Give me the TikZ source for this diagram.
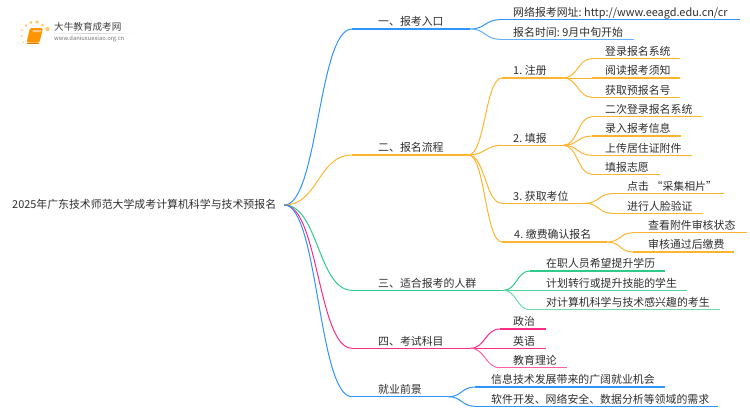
\documentclass[tikz,border=0pt]{standalone}
\usepackage{fontspec}
\setmainfont{Noto Sans CJK SC}
\usepackage{xcolor}
\usetikzlibrary{calc}

\definecolor{inkText}{HTML}{2E2E2E}
\definecolor{blueLine}{HTML}{2F95FB}
\definecolor{orangeLine}{HTML}{FDB52F}
\definecolor{greenLine}{HTML}{2FCB8B}
\definecolor{pinkLine}{HTML}{FB2C86}

\tikzset{
  topic/.style = {anchor = south west, inner sep = 0pt, text height = 9pt, text depth = 3pt,
    align = left, text = inkText, font = \fontsize{10.9}{13}\selectfont,
    execute at begin node = {\spaceskip = 2.6pt \xspaceskip = 2.6pt}},
  curveLine/.style = {line width = 1pt},
  runLine/.style = {line width = 1.3pt}
}

% curve from a parent to the start of the child's underline
\newcommand{\branch}[4]{
  \coordinate (bend) at ([xshift = -#4pt]#3.south west);
  \draw[curveLine, #1] (#2) .. controls ($(#2)!.5!(#2 -| bend)$) and ($(bend)!.5!(bend -| #2)$) .. (bend);
  \draw[runLine, #1] (bend) -- (#3.south east);
}

\begin{document}
\begin{tikzpicture}[x = 1pt, y = -1pt]
  \useasboundingbox (0,0) rectangle (750,410);

% logo
  \fill[orangeLine!70] (22,30) circle (1pt) (26,25.5) circle (1.4pt) (31,22.5) circle (1.7pt)
    (37,22) circle (1.8pt) (42.5,25) circle (1.5pt) (47.5,29) circle (2.2pt)
    (21.5,36) circle (1pt) (23,42.5) circle (.8pt);
  \fill[orange!85!yellow, rounded corners = 1.5pt] (30,28) -- (43,28) -- (39.5,42.5) -- (26.5,42.5) -- cycle;
  \fill[orange!45!white] (33,30) -- (41.5,30) -- (41,32) -- (32.5,32) -- cycle;
  \draw[orange!90!black, line width = .5pt] (27,43) -- (39,43);
  \shade[left color = white, right color = white, middle color = black!18] (46,33) rectangle (134,33.7);
  \node[inner sep = 0pt, anchor = west, text = black!75, font = \fontsize{9.6}{11}\selectfont]
    (logoName) at (54,27) {大牛教育成考网};
  \node[inner sep = 0pt, anchor = west, text = black!55, font = \fontsize{5.8}{7}\selectfont]
    (logoSite) at (54,39) {www.daniuxuexiao.org.cn};

% root
  \node[topic, anchor = west, inner xsep = 8pt, text depth = 2pt, minimum width = 280pt] (root) at (4,205)
    {2025年广东技术师范大学成考计算机科学与技术预报名};

% entry
  \node[topic, text width = 92pt] (entry) at (378,29) {一、报考入口};
  \node[topic, text width = 227pt] (entrySite) at (513,19.7) {网络报考网址: http://www.eeagd.edu.cn/cr};
  \node[topic, text width = 121pt] (entryTime) at (513,39.3) {报名时间: 9月中旬开始};
  \branch{blueLine}{root.east}{entry}{26}
  \branch{blueLine}{entry.south east}{entrySite}{13}
  \branch{blueLine!75}{entry.south east}{entryTime}{13}

% process
  \node[topic, text width = 90pt] (flow) at (378,155) {二、报名流程};
  \branch{orangeLine}{root.east}{flow}{26}

  \node[topic, text width = 50pt] (signUp) at (513,78) {1. 注册};
  \node[topic, text width = 75pt] (signA) at (605,58.7) {登录报名系统};
  \node[topic, text width = 75pt] (signB) at (605,78) {阅读报考须知};
  \node[topic, text width = 75pt] (signC) at (605,97.3) {获取预报名号};
  \branch{orangeLine}{flow.south east}{signUp}{11}
  \foreach \leaf in {signA, signB, signC} {
    \branch{orangeLine}{signUp.south east}{\leaf}{13}
  }

  \node[topic, text width = 50pt] (fill) at (513,145.3) {2. 填报};
  \node[topic, text width = 97pt] (fillA) at (605,116.7) {二次登录报名系统};
  \node[topic, text width = 76pt] (fillB) at (605,136) {录入报考信息};
  \node[topic, text width = 87pt] (fillC) at (605,155.3) {上传居住证附件};
  \node[topic, text width = 55pt] (fillD) at (605,174.3) {填报志愿};
  \branch{orangeLine}{flow.south east}{fill}{11}
  \foreach \leaf in {fillA, fillB, fillC, fillD} {
    \branch{orangeLine}{fill.south east}{\leaf}{13}
  }

  \node[topic, text width = 72pt] (seat) at (513,203.3) {3. 获取考位};
  \node[topic, text width = 97pt] (seatA) at (627,193.7) {点击 “采集相片”};
  \node[topic, text width = 76pt] (seatB) at (627,213.3) {进行人脸验证};
  \branch{orangeLine}{flow.south east}{seat}{11}
  \branch{orangeLine}{seat.south east}{seatA}{15}
  \branch{orangeLine}{seat.south east}{seatB}{15}

  \node[topic, text width = 93pt] (pay) at (514,242) {4. 缴费确认报名};
  \node[topic, text width = 99pt] (payA) at (648,232.7) {查看附件审核状态};
  \node[topic, text width = 86pt] (payB) at (648,252) {审核通过后缴费};
  \branch{orangeLine}{flow.south east}{pay}{12}
  \branch{orangeLine}{pay.south east}{payA}{15}
  \branch{orangeLine}{pay.south east}{payB}{15}

% audience
  \node[topic, text width = 125pt] (crowd) at (378,290.3) {三、适合报考的人群};
  \node[topic, text width = 119pt] (crowdA) at (546,271) {在职人员希望提升学历};
  \node[topic, text width = 141pt] (crowdB) at (546,290.3) {计划转行或提升技能的学生};
  \node[topic, text width = 174pt] (crowdC) at (546,309.7) {对计算机科学与技术感兴趣的考生};
  \branch{greenLine}{root.east}{crowd}{26}
  \branch{greenLine}{crowd.south east}{crowdA}{16}
  \branch{greenLine!85}{crowd.south east}{crowdB}{16}
  \branch{greenLine!70}{crowd.south east}{crowdC}{16}

% subjects
  \node[topic, text width = 92pt] (exam) at (378,348.3) {四、考试科目};
  \node[topic, text width = 33pt] (examA) at (513,329) {政治};
  \node[topic, text width = 33pt] (examB) at (513,348.3) {英语};
  \node[topic, text width = 54pt] (examC) at (513,367.7) {教育理论};
  \branch{pinkLine}{root.east}{exam}{26}
  \branch{pinkLine}{exam.south east}{examA}{13}
  \branch{pinkLine}{exam.south east}{examB}{13}
  \branch{pinkLine!75}{exam.south east}{examC}{13}

% prospects
  \node[topic, text width = 70pt] (job) at (378,396.7) {就业前景};
  \node[topic, text width = 174pt] (jobA) at (491,387) {信息技术发展带来的广阔就业机会};
  \node[topic, text width = 227pt] (jobB) at (491,406.3) {软件开发、网络安全、数据分析等领域的需求};
  \branch{blueLine}{root.east}{job}{26}
  \branch{blueLine}{job.south east}{jobA}{16}
  \branch{blueLine}{job.south east}{jobB}{16}

\end{tikzpicture}
\end{document}
